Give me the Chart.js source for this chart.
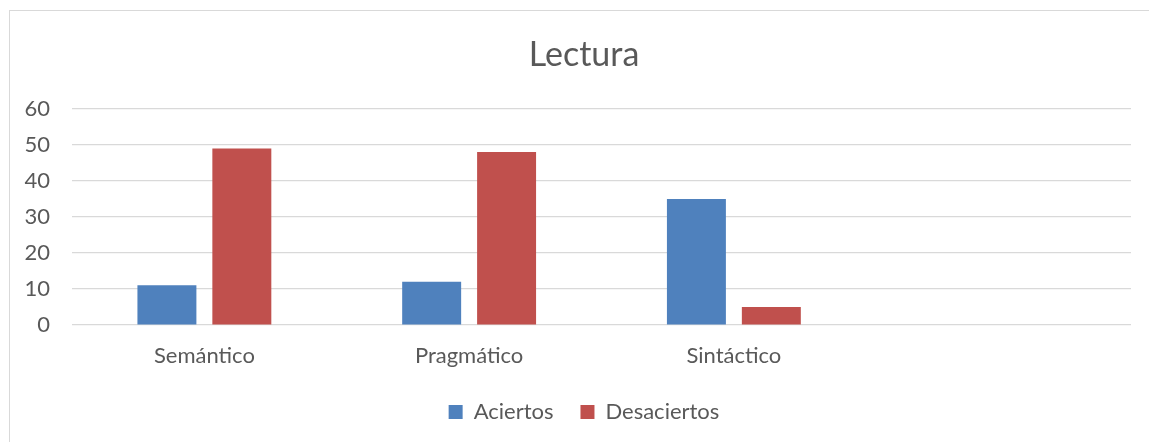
<!DOCTYPE html>
<html>
<head>
<meta charset="utf-8">
<script src="https://cdn.jsdelivr.net/npm/chart.js@4/dist/chart.umd.min.js"></script>
<style>
  body { margin: 0; background: #fff; overflow: hidden; }
  .frame { position: absolute; left: 9px; top: 10px; width: 1160px; height: 460px; border: 1px solid #d9d9d9; }
  /* canvas runs a little past the right edge, like the original chart frame */
  .wrap { position: absolute; left: 0; top: 0; width: 1168px; height: 442px; }
</style>
</head>
<body>
<div class="frame"></div>
<div class="wrap"><canvas id="myChart"></canvas></div>
<script>
// categories (last slot is empty in the original)
const categories = ["Semántico", "Pragmático", "Sintáctico", ""];
const aciertos = [11, 12, 35, null];
const desaciertos = [49, 48, 5, null];
const yTicks = [0, 10, 20, 30, 40, 50, 60];

const textColor = "#595959";
const gridColor = "#d9d9d9";

const ctx = document.getElementById("myChart").getContext("2d");

const myChart = new Chart(ctx, {
  type: "bar",
  data: {
    labels: categories,
    datasets: [
      {
        label: "Aciertos",
        data: aciertos,
        backgroundColor: "#4f81bd",
        categoryPercentage: 0.566,
        barPercentage: 0.787,
      },
      {
        label: "Desaciertos",
        data: desaciertos,
        backgroundColor: "#c0504d",
        categoryPercentage: 0.566,
        barPercentage: 0.787,
      },
    ],
  },
  options: {
    responsive: true,
    maintainAspectRatio: false,
    animation: false,
    layout: {
      padding: { top: 35, right: 0, bottom: 9, left: 0 },
    },
    plugins: {
      title: {
        display: true,
        text: "Lectura",
        color: textColor,
        font: { family: "Lato", size: 34, weight: "normal" },
        padding: { top: 0, bottom: 33 },
      },
      legend: {
        position: "bottom",
        labels: {
          color: textColor,
          font: { family: "Lato", size: 22 },
          boxWidth: 14,
          boxHeight: 14,
          padding: 27,
        },
      },
      tooltip: { enabled: false },
    },
    scales: {
      x: {
        afterFit: function (scale) {
          scale.height = 49;
        },
        grid: { display: false, drawTicks: false },
        border: { display: false },
        ticks: {
          color: textColor,
          font: { family: "Lato", size: 22 },
          padding: 18,
        },
      },
      y: {
        min: 0,
        max: 60,
        afterFit: function (scale) {
          scale.width = 72;
        },
        afterBuildTicks: function (scale) {
          scale.ticks = yTicks.map((v) => ({ value: v }));
        },
        grid: { color: gridColor, lineWidth: 1.2, drawTicks: false },
        border: { display: false },
        ticks: {
          color: textColor,
          font: { family: "Lato", size: 22 },
          padding: 22,
        },
      },
      // empty axis on the right, only to leave the blank margin there
      yRight: {
        position: "right",
        afterFit: function (scale) {
          scale.width = 37;
        },
        grid: { display: false },
        border: { display: false },
        ticks: { display: false },
      },
    },
  },
});
</script>
</body>
</html>
